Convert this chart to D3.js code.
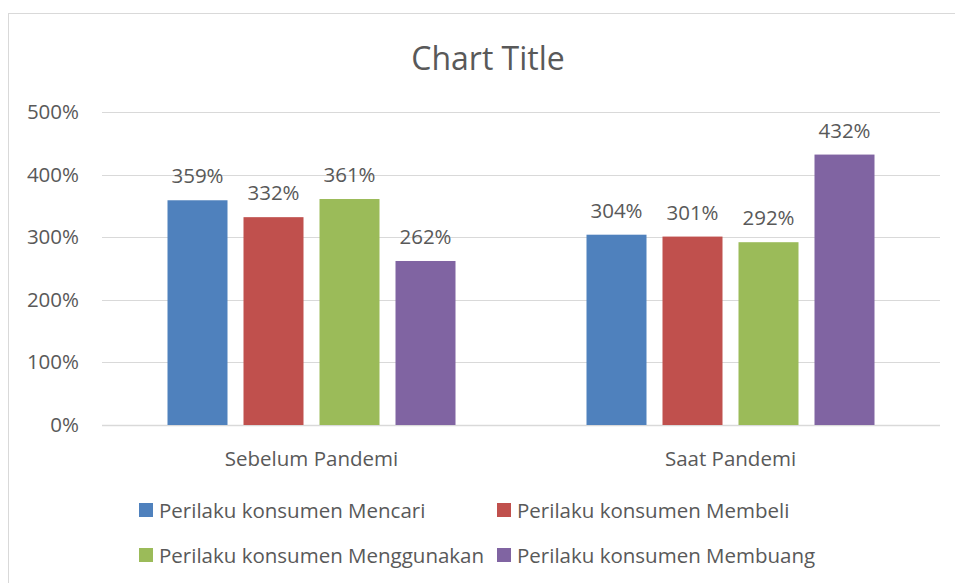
<!DOCTYPE html>
<html><head><meta charset="utf-8">
<script src="https://cdn.jsdelivr.net/npm/d3@7"></script>
<style>body{margin:0;background:#fff}svg{display:block}text{font-family:"Open Sans",sans-serif;fill:#595959}</style>
</head><body><svg id="c" width="955" height="583"></svg>
<script>
const categories = ["Sebelum Pandemi", "Saat Pandemi"];
const seriesNames = ["Perilaku konsumen Mencari", "Perilaku konsumen Membeli", "Perilaku konsumen Menggunakan", "Perilaku konsumen Membuang"];
const seriesColors = ["#4F81BD", "#C0504D", "#9BBB59", "#8064A2"];
const mencari = [359, 304];
const membeli = [332, 301];
const menggunakan = [361, 292];
const membuang = [262, 432];
const yTicks = [0, 100, 200, 300, 400, 500];
const title = "Chart Title";

const values = [mencari, membeli, menggunakan, membuang];
const svg = d3.select("#c");
svg.append("rect").attr("x", 8.5).attr("y", 13.5).attr("width", 960).attr("height", 600)
  .attr("fill", "#fff").attr("stroke", "#D9D9D9");

const x0 = d3.scaleBand().domain(categories).range([102, 940]);
const x1 = d3.scaleBand().domain(d3.range(4)).range([65.5, 419 - 65.5]).paddingInner(16/76);
const y = d3.scaleLinear().domain([0, 500]).range([425, 112]);

svg.append("text").attr("x", 488).attr("y", 70).attr("text-anchor", "middle")
  .style("font-size", "32px").text(title);

const g = svg.append("g");
yTicks.forEach(t => {
  g.append("line").attr("x1", 102).attr("x2", 940).attr("y1", Math.round(y(t)) + 0.5).attr("y2", Math.round(y(t)) + 0.5)
    .attr("stroke", "#D9D9D9").attr("stroke-width", t === 0 ? 1.5 : 1);
  g.append("text").attr("x", 79).attr("y", y(t) + 7).attr("text-anchor", "end")
    .style("font-size", "20.5px").text(t + "%");
});

categories.forEach((c, ci) => {
  values.forEach((arr, si) => {
    const bx = x0(c) + x1(si);
    g.append("rect").attr("x", bx).attr("y", y(arr[ci])).attr("width", x1.bandwidth())
      .attr("height", y(0) - y(arr[ci])).attr("fill", seriesColors[si]);
    g.append("text").attr("x", bx + x1.bandwidth() / 2).attr("y", y(arr[ci]) - 17)
      .attr("text-anchor", "middle").style("font-size", "20.5px").text(arr[ci] + "%");
  });
  g.append("text").attr("x", x0(c) + x0.bandwidth() / 2).attr("y", 466)
    .attr("text-anchor", "middle").style("font-size", "20.5px").text(c);
});

const legPos = [[139, 503], [497, 503], [139, 548], [497, 548]];
seriesNames.forEach((n, i) => {
  const [lx, ly] = legPos[i];
  svg.append("rect").attr("x", lx).attr("y", ly).attr("width", 14).attr("height", 14).attr("fill", seriesColors[i]);
  svg.append("text").attr("x", lx + 20).attr("y", ly + 15).style("font-size", "20.5px").text(n);
});
</script></body></html>
